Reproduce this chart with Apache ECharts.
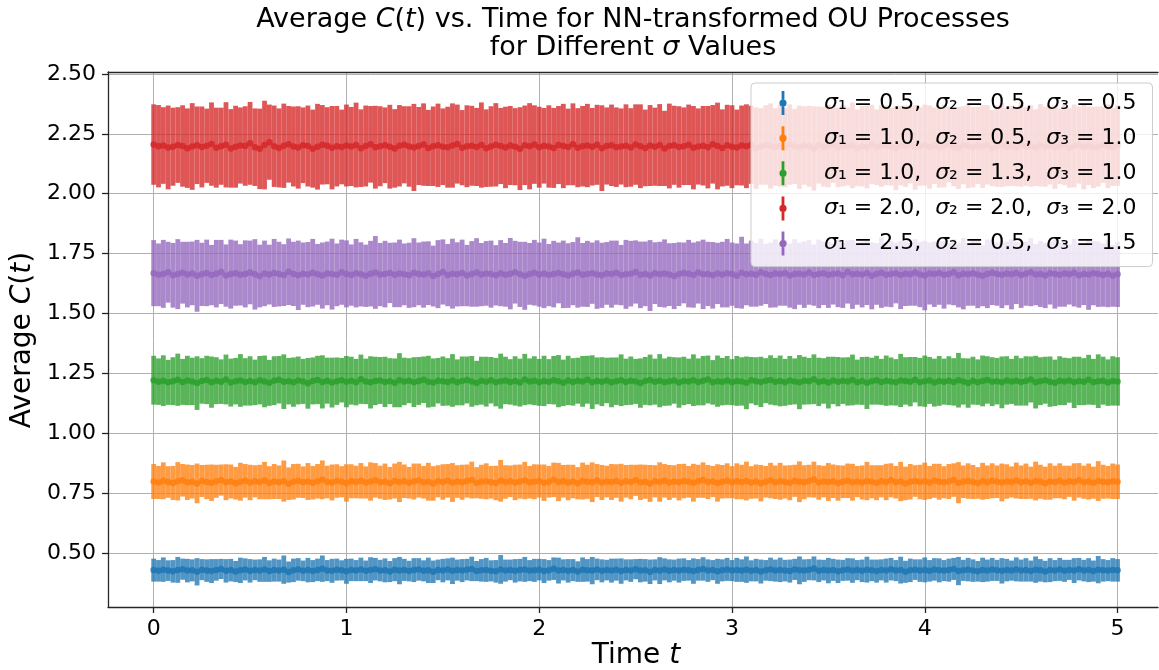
<!DOCTYPE html>
<html><head><meta charset="utf-8">
<script src="https://cdn.jsdelivr.net/npm/echarts@6/dist/echarts.min.js"></script>
<style>html,body{margin:0;padding:0;background:#fff}#c{width:1159px;height:670px}</style>
</head><body><div id="c"></div>
<script>
// sampling grid of the time axis
const tStart = 0, tStep = 0.025;
const xTicks = [0, 1, 2, 3, 4, 5];
const yTicks = [0.5, 0.75, 1.0, 1.25, 1.5, 1.75, 2.0, 2.25, 2.5];
const sigmaValues = [['0.5','0.5','0.5'],['1.0','0.5','1.0'],['1.0','1.3','1.0'],['2.0','2.0','2.0'],['2.5','0.5','1.5']];
const colors = ['#1f77b4','#ff7f0e','#2ca02c','#d62728','#9467bd'];

const blueMean = [0.428,0.425,0.430,0.426,0.423,0.429,0.432,0.426,0.427,0.421,
0.430,0.426,0.424,0.429,0.433,0.425,0.428,0.422,0.427,0.431,
0.425,0.429,0.426,0.431,0.424,0.428,0.426,0.430,0.420,0.427,
0.431,0.425,0.428,0.424,0.429,0.434,0.426,0.425,0.430,0.427,
0.423,0.429,0.426,0.431,0.425,0.428,0.432,0.426,0.427,0.422,
0.430,0.426,0.429,0.424,0.428,0.431,0.425,0.427,0.421,0.429,
0.426,0.431,0.425,0.428,0.426,0.430,0.433,0.424,0.427,0.429,
0.425,0.423,0.431,0.426,0.429,0.425,0.428,0.431,0.426,0.427,
0.430,0.424,0.427,0.434,0.426,0.429,0.425,0.428,0.422,0.430,
0.427,0.426,0.431,0.425,0.428,0.426,0.430,0.424,0.429,0.426,
0.432,0.426,0.427,0.421,0.429,0.426,0.431,0.425,0.428,0.426,
0.430,0.427,0.424,0.429,0.433,0.426,0.428,0.423,0.427,0.431,
0.426,0.429,0.426,0.430,0.425,0.428,0.422,0.427,0.431,0.426,
0.429,0.426,0.424,0.431,0.427,0.426,0.430,0.435,0.425,0.428,
0.426,0.429,0.423,0.427,0.431,0.426,0.428,0.425,0.430,0.427,
0.424,0.429,0.426,0.432,0.426,0.428,0.421,0.427,0.430,0.426,
0.429,0.425,0.431,0.427,0.426,0.428,0.433,0.424,0.427,0.430,
0.426,0.423,0.429,0.426,0.431,0.427,0.425,0.428,0.426,0.431,
0.426,0.429,0.424,0.430,0.427,0.422,0.428,0.426,0.431,0.425,
0.429,0.426,0.432,0.426,0.428,0.424,0.430,0.427,0.426,0.429,
0.427];
const blueErr = [0.048,0.045,0.051,0.043,0.047,0.054,0.044,0.049,0.046,0.057,
0.044,0.047,0.050,0.045,0.042,0.049,0.047,0.044,0.053,0.046,
0.049,0.043,0.047,0.052,0.045,0.048,0.046,0.059,0.044,0.049,
0.047,0.043,0.051,0.046,0.047,0.055,0.044,0.050,0.046,0.042,
0.052,0.047,0.044,0.049,0.043,0.054,0.047,0.045,0.050,0.044,
0.048,0.057,0.046,0.043,0.050,0.047,0.044,0.053,0.047,0.043,
0.049,0.046,0.055,0.044,0.048,0.045,0.051,0.042,0.047,0.050,
0.044,0.047,0.060,0.046,0.043,0.049,0.047,0.052,0.044,0.048,
0.045,0.050,0.043,0.047,0.054,0.044,0.049,0.046,0.043,0.051,
0.047,0.057,0.045,0.048,0.043,0.050,0.046,0.053,0.044,0.047,
0.042,0.049,0.047,0.051,0.044,0.056,0.046,0.048,0.044,0.050,
0.047,0.043,0.053,0.045,0.049,0.047,0.042,0.052,0.046,0.048,
0.044,0.050,0.047,0.055,0.044,0.047,0.050,0.043,0.049,0.046,
0.051,0.045,0.048,0.044,0.058,0.047,0.044,0.050,0.047,0.043,
0.053,0.046,0.049,0.044,0.047,0.051,0.042,0.047,0.054,0.045,
0.048,0.044,0.050,0.047,0.044,0.056,0.046,0.049,0.043,0.047,
0.052,0.045,0.047,0.050,0.044,0.048,0.046,0.059,0.044,0.049,
0.047,0.043,0.051,0.046,0.048,0.044,0.053,0.047,0.042,0.050,
0.046,0.049,0.044,0.055,0.047,0.045,0.050,0.044,0.048,0.046,
0.042,0.052,0.047,0.045,0.050,0.044,0.057,0.047,0.044,0.049,
0.047];
const orangeMean = [0.798,0.794,0.801,0.796,0.792,0.799,0.803,0.795,0.797,0.790,
0.800,0.796,0.793,0.799,0.804,0.795,0.798,0.791,0.797,0.801,
0.794,0.799,0.796,0.802,0.793,0.798,0.795,0.800,0.789,0.797,
0.801,0.795,0.798,0.793,0.799,0.805,0.796,0.794,0.800,0.797,
0.792,0.799,0.796,0.801,0.794,0.798,0.803,0.795,0.797,0.791,
0.800,0.796,0.799,0.793,0.798,0.802,0.795,0.797,0.790,0.799,
0.796,0.801,0.794,0.798,0.795,0.800,0.804,0.793,0.797,0.799,
0.795,0.792,0.801,0.796,0.799,0.794,0.798,0.802,0.795,0.797,
0.800,0.793,0.797,0.805,0.796,0.799,0.794,0.798,0.791,0.800,
0.797,0.795,0.802,0.794,0.798,0.796,0.800,0.793,0.799,0.796,
0.803,0.795,0.797,0.790,0.799,0.796,0.801,0.794,0.798,0.795,
0.800,0.797,0.793,0.799,0.804,0.796,0.798,0.792,0.797,0.801,
0.795,0.799,0.796,0.800,0.794,0.798,0.791,0.797,0.802,0.795,
0.799,0.796,0.793,0.801,0.797,0.795,0.800,0.806,0.794,0.798,
0.796,0.799,0.792,0.797,0.801,0.795,0.798,0.794,0.800,0.797,
0.793,0.799,0.796,0.803,0.795,0.798,0.790,0.797,0.800,0.796,
0.799,0.794,0.801,0.797,0.795,0.798,0.804,0.793,0.797,0.800,
0.796,0.792,0.799,0.795,0.801,0.797,0.794,0.798,0.796,0.802,
0.795,0.799,0.793,0.800,0.797,0.791,0.798,0.796,0.801,0.794,
0.799,0.796,0.803,0.795,0.798,0.793,0.800,0.797,0.795,0.799,
0.797];
const orangeErr = [0.073,0.069,0.077,0.066,0.071,0.080,0.068,0.074,0.070,0.083,
0.067,0.072,0.076,0.069,0.065,0.075,0.071,0.068,0.079,0.070,
0.074,0.067,0.072,0.078,0.069,0.073,0.070,0.086,0.068,0.074,
0.071,0.066,0.077,0.070,0.072,0.081,0.068,0.075,0.070,0.065,
0.078,0.071,0.068,0.074,0.067,0.080,0.072,0.069,0.076,0.068,
0.073,0.084,0.070,0.066,0.075,0.071,0.068,0.079,0.072,0.067,
0.074,0.070,0.081,0.068,0.073,0.069,0.077,0.065,0.071,0.075,
0.068,0.072,0.087,0.070,0.066,0.074,0.071,0.078,0.068,0.073,
0.069,0.076,0.066,0.072,0.080,0.068,0.074,0.070,0.067,0.077,
0.071,0.083,0.069,0.073,0.066,0.075,0.070,0.079,0.068,0.072,
0.065,0.074,0.071,0.077,0.067,0.082,0.070,0.073,0.068,0.076,
0.072,0.066,0.079,0.069,0.074,0.071,0.065,0.078,0.070,0.073,
0.067,0.075,0.072,0.081,0.068,0.071,0.076,0.066,0.074,0.070,
0.077,0.069,0.073,0.067,0.085,0.071,0.068,0.075,0.072,0.066,
0.079,0.070,0.074,0.068,0.072,0.077,0.065,0.071,0.080,0.069,
0.073,0.067,0.076,0.071,0.068,0.082,0.070,0.074,0.066,0.072,
0.078,0.069,0.071,0.075,0.067,0.073,0.070,0.086,0.068,0.074,
0.071,0.066,0.077,0.070,0.073,0.068,0.079,0.072,0.065,0.075,
0.070,0.074,0.067,0.081,0.071,0.069,0.076,0.068,0.073,0.070,
0.065,0.078,0.072,0.069,0.075,0.067,0.083,0.071,0.068,0.074,
0.072];
const greenMean = [1.221,1.215,1.219,1.212,1.217,1.223,1.214,1.220,1.216,1.209,
1.218,1.222,1.213,1.219,1.215,1.224,1.211,1.217,1.220,1.214,
1.218,1.212,1.221,1.216,1.210,1.219,1.223,1.215,1.217,1.213,
1.220,1.216,1.208,1.218,1.222,1.214,1.219,1.211,1.217,1.221,
1.215,1.219,1.213,1.225,1.216,1.212,1.218,1.220,1.214,1.217,
1.210,1.221,1.216,1.219,1.213,1.218,1.223,1.215,1.211,1.219,
1.217,1.214,1.220,1.212,1.218,1.222,1.216,1.209,1.219,1.215,
1.221,1.213,1.217,1.220,1.214,1.218,1.211,1.224,1.216,1.219,
1.212,1.218,1.215,1.221,1.217,1.210,1.220,1.214,1.219,1.216,
1.223,1.213,1.218,1.215,1.220,1.212,1.217,1.221,1.214,1.219,
1.216,1.209,1.218,1.222,1.215,1.219,1.213,1.217,1.220,1.211,
1.218,1.216,1.221,1.214,1.219,1.224,1.212,1.217,1.215,1.220,
1.213,1.218,1.216,1.210,1.221,1.217,1.214,1.219,1.222,1.215,
1.218,1.212,1.220,1.216,1.213,1.219,1.217,1.225,1.214,1.218,
1.211,1.220,1.215,1.219,1.216,1.222,1.213,1.218,1.210,1.217,
1.221,1.214,1.219,1.216,1.212,1.220,1.218,1.215,1.223,1.213,
1.217,1.220,1.211,1.218,1.215,1.219,1.214,1.221,1.216,1.209,
1.219,1.213,1.218,1.222,1.215,1.217,1.212,1.220,1.216,1.219,
1.214,1.218,1.224,1.213,1.217,1.221,1.215,1.210,1.219,1.216,
1.220,1.212,1.218,1.215,1.223,1.214,1.217,1.219,1.211,1.218,
1.216];
const greenErr = [0.102,0.097,0.106,0.094,0.100,0.109,0.096,0.103,0.099,0.112,
0.095,0.101,0.107,0.098,0.093,0.104,0.100,0.097,0.110,0.099,
0.103,0.095,0.101,0.108,0.096,0.102,0.099,0.114,0.097,0.103,
0.100,0.094,0.106,0.098,0.101,0.111,0.096,0.104,0.099,0.093,
0.107,0.100,0.097,0.103,0.095,0.109,0.101,0.098,0.105,0.096,
0.102,0.113,0.099,0.094,0.104,0.100,0.097,0.108,0.101,0.095,
0.103,0.099,0.110,0.096,0.102,0.098,0.106,0.093,0.100,0.104,
0.097,0.101,0.115,0.099,0.095,0.103,0.100,0.107,0.096,0.102,
0.098,0.105,0.094,0.101,0.109,0.097,0.103,0.099,0.096,0.106,
0.100,0.112,0.098,0.102,0.095,0.104,0.099,0.108,0.097,0.101,
0.094,0.103,0.100,0.106,0.096,0.111,0.099,0.102,0.097,0.105,
0.101,0.095,0.108,0.098,0.103,0.100,0.093,0.107,0.099,0.102,
0.096,0.104,0.101,0.110,0.097,0.100,0.105,0.094,0.103,0.099,
0.106,0.098,0.102,0.096,0.113,0.100,0.097,0.104,0.101,0.095,
0.108,0.099,0.103,0.097,0.101,0.106,0.094,0.100,0.109,0.098,
0.102,0.096,0.105,0.100,0.097,0.111,0.099,0.103,0.095,0.101,
0.107,0.098,0.100,0.104,0.096,0.102,0.099,0.114,0.097,0.103,
0.100,0.095,0.106,0.099,0.102,0.097,0.108,0.101,0.094,0.104,
0.099,0.103,0.096,0.110,0.100,0.098,0.105,0.097,0.102,0.099,
0.093,0.107,0.101,0.098,0.104,0.096,0.112,0.100,0.097,0.103,
0.101];
const redMean = [2.205,2.198,2.201,2.193,2.196,2.203,2.199,2.190,2.197,2.202,
2.195,2.200,2.207,2.192,2.198,2.204,2.189,2.196,2.201,2.199,
2.210,2.194,2.187,2.203,2.215,2.198,2.191,2.200,2.206,2.197,
2.193,2.202,2.199,2.188,2.196,2.204,2.200,2.192,2.198,2.195,
2.201,2.197,2.203,2.190,2.199,2.206,2.194,2.198,2.202,2.196,
2.189,2.200,2.204,2.197,2.193,2.199,2.205,2.191,2.198,2.202,
2.196,2.194,2.201,2.207,2.192,2.198,2.200,2.195,2.203,2.190,
2.197,2.204,2.199,2.193,2.201,2.196,2.188,2.202,2.198,2.205,
2.194,2.200,2.197,2.191,2.203,2.199,2.195,2.206,2.192,2.198,
2.201,2.196,2.204,2.190,2.199,2.202,2.194,2.197,2.200,2.193,
2.205,2.198,2.191,2.201,2.196,2.203,2.189,2.199,2.202,2.195,
2.198,2.204,2.192,2.197,2.200,2.194,2.206,2.199,2.191,2.202,
2.196,2.193,2.201,2.198,2.204,2.190,2.197,2.203,2.199,2.195,
2.200,2.192,2.205,2.197,2.194,2.201,2.198,2.189,2.203,2.196,
2.199,2.204,2.193,2.200,2.197,2.202,2.191,2.198,2.195,2.206,
2.194,2.199,2.202,2.196,2.190,2.201,2.198,2.204,2.193,2.197,
2.203,2.195,2.200,2.192,2.198,2.205,2.196,2.191,2.202,2.199,
2.194,2.201,2.197,2.204,2.190,2.198,2.203,2.195,2.200,2.193,
2.206,2.197,2.199,2.192,2.202,2.196,2.201,2.194,2.198,2.205,
2.191,2.199,2.203,2.196,2.200,2.193,2.197,2.204,2.198,2.195,
2.201];
const redErr = [0.168,0.172,0.160,0.175,0.163,0.158,0.170,0.166,0.181,0.162,
0.169,0.155,0.174,0.167,0.161,0.178,0.164,0.171,0.159,0.166,
0.173,0.162,0.168,0.185,0.157,0.170,0.165,0.176,0.160,0.167,
0.172,0.158,0.169,0.163,0.179,0.166,0.161,0.174,0.168,0.156,
0.171,0.165,0.177,0.162,0.169,0.160,0.173,0.167,0.158,0.175,
0.164,0.170,0.161,0.168,0.182,0.163,0.172,0.159,0.166,0.174,
0.160,0.169,0.176,0.165,0.157,0.171,0.167,0.163,0.178,0.162,
0.168,0.174,0.159,0.170,0.165,0.161,0.173,0.166,0.180,0.164,
0.169,0.158,0.172,0.167,0.163,0.176,0.160,0.171,0.165,0.168,
0.174,0.162,0.167,0.179,0.161,0.170,0.166,0.159,0.173,0.164,
0.168,0.175,0.160,0.169,0.163,0.171,0.157,0.177,0.165,0.170,
0.162,0.168,0.174,0.159,0.166,0.172,0.164,0.181,0.161,0.169,
0.173,0.158,0.167,0.175,0.163,0.170,0.160,0.166,0.178,0.162,
0.171,0.165,0.168,0.157,0.174,0.164,0.169,0.176,0.161,0.167,
0.172,0.159,0.166,0.170,0.163,0.179,0.160,0.168,0.173,0.165,
0.158,0.171,0.167,0.162,0.175,0.166,0.170,0.161,0.177,0.164,
0.169,0.174,0.160,0.167,0.172,0.158,0.165,0.171,0.163,0.176,
0.168,0.161,0.173,0.166,0.159,0.170,0.175,0.164,0.168,0.162,
0.177,0.165,0.170,0.160,0.172,0.167,0.163,0.174,0.158,0.169,
0.166,0.173,0.161,0.178,0.164,0.170,0.167,0.159,0.175,0.163,
0.168];
const purpleMean = [1.668,1.661,1.665,1.672,1.659,1.664,1.670,1.662,1.667,1.657,
1.663,1.669,1.660,1.666,1.673,1.658,1.664,1.668,1.661,1.665,
1.671,1.663,1.656,1.667,1.662,1.669,1.664,1.660,1.674,1.665,
1.659,1.666,1.662,1.670,1.663,1.658,1.667,1.664,1.661,1.672,
1.665,1.660,1.668,1.663,1.657,1.666,1.671,1.662,1.664,1.669,
1.661,1.667,1.663,1.659,1.670,1.665,1.662,1.668,1.656,1.664,
1.673,1.660,1.666,1.663,1.669,1.658,1.665,1.671,1.662,1.667,
1.664,1.659,1.668,1.661,1.666,1.672,1.663,1.657,1.665,1.670,
1.662,1.667,1.660,1.664,1.669,1.663,1.658,1.666,1.671,1.661,
1.665,1.668,1.662,1.659,1.667,1.664,1.670,1.660,1.663,1.666,
1.673,1.661,1.665,1.658,1.668,1.663,1.667,1.662,1.656,1.664,
1.669,1.666,1.660,1.671,1.663,1.665,1.659,1.667,1.662,1.668,
1.664,1.657,1.670,1.663,1.666,1.661,1.672,1.665,1.660,1.667,
1.663,1.669,1.658,1.664,1.666,1.662,1.671,1.660,1.665,1.668,
1.661,1.664,1.667,1.659,1.673,1.663,1.666,1.662,1.669,1.657,
1.665,1.670,1.661,1.664,1.668,1.660,1.666,1.663,1.671,1.662,
1.658,1.667,1.664,1.669,1.661,1.665,1.672,1.659,1.666,1.663,
1.668,1.662,1.657,1.665,1.670,1.664,1.661,1.667,1.663,1.669,
1.660,1.666,1.672,1.662,1.665,1.658,1.668,1.664,1.661,1.667,
1.663,1.670,1.659,1.665,1.662,1.668,1.664,1.660,1.666,1.657,
1.663];
const purpleErr = [0.138,0.131,0.142,0.127,0.135,0.146,0.129,0.137,0.133,0.150,
0.132,0.139,0.126,0.141,0.134,0.130,0.144,0.136,0.128,0.140,
0.133,0.147,0.131,0.137,0.125,0.142,0.135,0.129,0.139,0.134,
0.145,0.130,0.136,0.141,0.127,0.138,0.133,0.148,0.131,0.136,
0.140,0.128,0.143,0.134,0.130,0.137,0.152,0.132,0.139,0.126,
0.135,0.141,0.129,0.136,0.144,0.131,0.138,0.133,0.127,0.142,
0.136,0.130,0.146,0.134,0.139,0.128,0.137,0.143,0.132,0.135,
0.140,0.126,0.138,0.133,0.149,0.131,0.136,0.142,0.129,0.137,
0.134,0.145,0.130,0.139,0.127,0.141,0.135,0.132,0.147,0.133,
0.138,0.128,0.143,0.136,0.131,0.140,0.134,0.126,0.144,0.137,
0.132,0.139,0.135,0.148,0.129,0.136,0.142,0.131,0.138,0.133,
0.127,0.141,0.136,0.130,0.145,0.134,0.139,0.128,0.137,0.143,
0.132,0.135,0.150,0.129,0.138,0.133,0.140,0.126,0.136,0.142,
0.131,0.137,0.134,0.146,0.130,0.139,0.135,0.128,0.143,0.133,
0.138,0.127,0.141,0.136,0.132,0.144,0.130,0.137,0.134,0.140,
0.129,0.147,0.133,0.138,0.126,0.142,0.135,0.131,0.139,0.136,
0.145,0.130,0.137,0.133,0.141,0.128,0.138,0.134,0.149,0.131,
0.136,0.140,0.127,0.143,0.135,0.132,0.139,0.133,0.146,0.130,
0.137,0.134,0.142,0.128,0.138,0.136,0.131,0.144,0.133,0.139,
0.126,0.141,0.135,0.130,0.147,0.134,0.137,0.132,0.140,0.129,
0.136];

const means = [blueMean, orangeMean, greenMean, redMean, purpleMean];
const errs = [blueErr, orangeErr, greenErr, redErr, purpleErr];
const names = sigmaValues.map(v => `σ₁ = ${v[0]},  σ₂ = ${v[1]},  σ₃ = ${v[2]}`);

const FONT = 'DejaVu Sans';
const AXIS_COLOR = '#262626';
const X_MIN = -0.237, X_MAX = 5.21, Y_MIN = 0.274, Y_MAX = 2.508;

// errorbar glyph: bar above and below a filled dot
const legendIcon = 'path://M2.6,0 L5.4,0 L5.4,8.6 L2.6,8.6 Z M2.6,15.4 L5.4,15.4 L5.4,24 L2.6,24 Z M0.4,12 A3.6,3.6 0 1,1 7.6,12 A3.6,3.6 0 1,1 0.4,12 Z M0,0 L0.01,0 L0.01,0.01 Z M7.99,23.99 L8,23.99 L8,24 Z';

const series = [];
means.forEach((m, k) => {
  const data = m.map((v, i) => [tStart + i * tStep, v, errs[k][i]]);
  series.push({
    type: 'custom', name: names[k], data: data,
    itemStyle: { color: colors[k] },
    encode: { x: 0, y: 1 },
    clip: true,
    renderItem: function (params, api) {
      const x = api.value(0), mu = api.value(1), e = api.value(2);
      const p1 = api.coord([x, mu + e]);
      const p2 = api.coord([x, mu - e]);
      const w = 4.8;
      return { type: 'rect',
        shape: { x: p1[0] - w / 2, y: p1[1], width: w, height: p2[1] - p1[1] },
        style: { fill: colors[k], opacity: 0.78 } };
    }
  });
  series.push({
    type: 'scatter', name: names[k],
    data: data.map(d => [d[0], d[1]]),
    symbolSize: 6.5,
    itemStyle: { color: colors[k], opacity: 0.85 },
    clip: true
  });
});

const chart = echarts.init(document.getElementById('c'), null, { renderer: 'canvas' });
chart.setOption({
  animation: false,
  backgroundColor: '#ffffff',
  grid: { left: 108, right: 1, top: 72, bottom: 63, containLabel: false, outerBoundsMode: 'none' },
  xAxis: [{
    type: 'value', min: X_MIN, max: X_MAX, minInterval: 1, maxInterval: 1,
    axisLine: { show: true, onZero: false, lineStyle: { color: AXIS_COLOR, width: 1.3 } },
    axisTick: { show: true, length: 6, customValues: xTicks, lineStyle: { color: AXIS_COLOR, width: 1.3 } },
    axisLabel: { customValues: xTicks, fontFamily: FONT, fontSize: 22, color: '#000', margin: 11,
      formatter: v => String(Math.round(v)) },
    splitLine: { show: true, lineStyle: { color: '#b0b0b0', width: 1 } }
  }, {
    type: 'value', position: 'top', min: X_MIN, max: X_MAX,
    axisLine: { show: true, onZero: false, lineStyle: { color: AXIS_COLOR, width: 1.3 } },
    axisTick: { show: false }, axisLabel: { show: false }, splitLine: { show: false }
  }],
  yAxis: {
    type: 'value', min: Y_MIN, max: Y_MAX, minInterval: 0.25, maxInterval: 0.25,
    axisLine: { show: true, onZero: false, lineStyle: { color: AXIS_COLOR, width: 1.3 } },
    axisTick: { show: true, length: 6, customValues: yTicks, lineStyle: { color: AXIS_COLOR, width: 1.3 } },
    axisLabel: { customValues: yTicks, fontFamily: FONT, fontSize: 22, color: '#000', margin: 12,
      formatter: v => v.toFixed(2) },
    splitLine: { show: true, lineStyle: { color: '#b0b0b0', width: 1 } }
  },
  legend: {
    orient: 'vertical', left: 751, top: 83,
    selectedMode: false,
    itemWidth: 8, itemHeight: 24, itemGap: 11.15,
    padding: [8, 16, 11, 28],
    backgroundColor: 'rgba(255,255,255,0.8)',
    borderColor: '#cccccc', borderWidth: 1, borderRadius: 4,
    data: names.map(n => ({ name: n, icon: legendIcon })),
    formatter: function (name) {
      return name.split('σ').map((s, i) => (i === 0 ? '' : '{i|σ}') + (s ? '{n|' + s + '}' : '')).join('');
    },
    textStyle: {
      fontFamily: FONT, fontSize: 22, color: '#000', padding: [0, 0, 0, 32],
      rich: {
        i: { fontFamily: FONT, fontSize: 22, fontStyle: 'italic', color: '#000' },
        n: { fontFamily: FONT, fontSize: 22, color: '#000' }
      }
    }
  },
  graphic: [
    { type: 'text', x: 633, y: 20, style: {
        text: '{n|Average }{i|C}{n|(}{i|t}{n|) vs. Time for NN-transformed OU Processes}',
        align: 'center', verticalAlign: 'middle',
        rich: { n: { fontFamily: FONT, fontSize: 27, fill: '#000' },
                i: { fontFamily: FONT, fontSize: 27, fontStyle: 'italic', fill: '#000' } } } },
    { type: 'text', x: 633, y: 48, style: {
        text: '{n|for Different }{i|σ}{n| Values}',
        align: 'center', verticalAlign: 'middle',
        rich: { n: { fontFamily: FONT, fontSize: 27, fill: '#000' },
                i: { fontFamily: FONT, fontSize: 27, fontStyle: 'italic', fill: '#000' } } } },
    { type: 'text', x: 636, y: 656, style: {
        text: '{n|Time }{i|t}',
        align: 'center', verticalAlign: 'middle',
        rich: { n: { fontFamily: FONT, fontSize: 28, fill: '#000' },
                i: { fontFamily: FONT, fontSize: 28, fontStyle: 'italic', fill: '#000' } } } },
    { type: 'text', x: 23, y: 340, rotation: Math.PI / 2, style: {
        text: '{n|Average }{i|C}{n|(}{i|t}{n|)}',
        align: 'center', verticalAlign: 'middle',
        rich: { n: { fontFamily: FONT, fontSize: 28, fill: '#000' },
                i: { fontFamily: FONT, fontSize: 28, fontStyle: 'italic', fill: '#000' } } } }
  ],
  series: series
});
</script>
</body></html>
